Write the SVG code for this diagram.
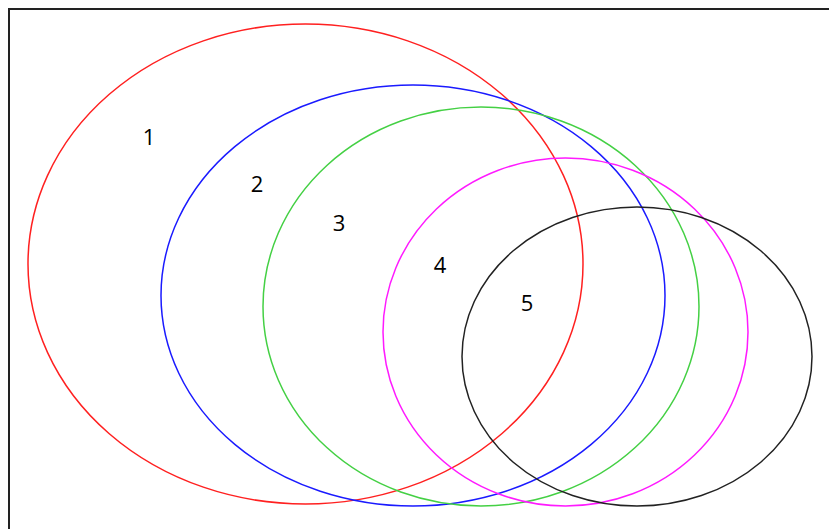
<svg xmlns="http://www.w3.org/2000/svg" width="829" height="529" viewBox="0 0 829 529">
<style>
.e{fill:none;stroke-width:1.5}
.t{font-family:"Open Sans","Liberation Sans",Arial,sans-serif;font-size:22px;fill:#000;text-anchor:middle}
</style>
<rect x="0" y="0" width="829" height="529" fill="#fff"/>
<rect x="9" y="9" width="840" height="540" fill="none" stroke="#222" stroke-width="2"/>
<g id="set1"><ellipse class="e" cx="305.5" cy="264" rx="277.5" ry="240" stroke="#ff2020"/><text class="t" x="149" y="145">1</text></g>
<g id="set2"><ellipse class="e" cx="413" cy="295.5" rx="252" ry="210.5" stroke="#1a1aff"/><text class="t" x="257" y="192">2</text></g>
<g id="set3"><ellipse class="e" cx="481" cy="306.5" rx="218" ry="199.5" stroke="#44d044"/><text class="t" x="339" y="231">3</text></g>
<g id="set4"><ellipse class="e" cx="565.5" cy="332" rx="182.5" ry="174" stroke="#ff1aff"/><text class="t" x="440" y="273">4</text></g>
<g id="set5"><ellipse class="e" cx="637" cy="356.5" rx="175" ry="149.5" stroke="#222"/><text class="t" x="527" y="311">5</text></g>
<g id="connectors"/>
</svg>
